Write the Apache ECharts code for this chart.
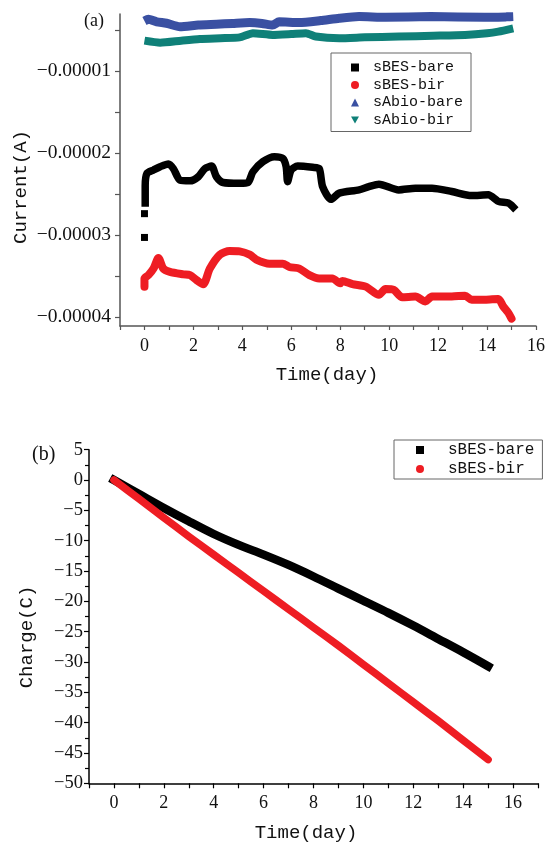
<!DOCTYPE html>
<html><head><meta charset="utf-8">
<script src="https://cdn.jsdelivr.net/npm/echarts@6/dist/echarts.min.js"></script>
<style>html,body{margin:0;padding:0;background:#fff}#c{width:548px;height:846px}</style>
</head><body><div id="c"></div>
<script>
// ---- Panel (a): current (A) vs time (day) ----
const bareDay = [0.03,0.03,0.1,0.37,0.64,0.98,1.18,1.45,1.86,2.2,2.47,2.74,2.94,3.21,3.89,4.23,4.43,4.84,5.31,5.65,5.79,5.85,5.99,6.26,6.87,7.14,7.28,7.62,7.96,8.77,9.17,9.58,10.39,11.07,11.75,12.56,13.37,14.05,14.46,14.87,15.07];
const bareCur = [-2.61e-5,-2.4e-5,-2.25e-5,-2.207e-5,-2.167e-5,-2.134e-5,-2.19e-5,-2.33e-5,-2.34e-5,-2.29e-5,-2.19e-5,-2.16e-5,-2.29e-5,-2.36e-5,-2.37e-5,-2.36e-5,-2.23e-5,-2.106e-5,-2.045e-5,-2.065e-5,-2.167e-5,-2.35e-5,-2.21e-5,-2.16e-5,-2.175e-5,-2.19e-5,-2.41e-5,-2.565e-5,-2.49e-5,-2.45e-5,-2.41e-5,-2.38e-5,-2.45e-5,-2.43e-5,-2.43e-5,-2.47e-5,-2.52e-5,-2.51e-5,-2.59e-5,-2.61e-5,-2.66e-5];
const bareStartDay = [0, 0];
const bareStartCur = [-2.74e-5, -3.03e-5];

const birDay = [0,0,0.16,0.37,0.57,0.77,1.04,1.59,1.86,2.13,2.4,2.67,3.08,3.48,3.89,4.3,4.57,5.11,5.65,5.92,6.33,6.74,7.14,7.41,7.68,8.0,8.09,8.5,9.04,9.58,9.85,10.19,10.53,11.07,11.48,11.75,12.56,13.1,13.37,13.92,14.46,14.66,14.87,15.0];
const birCur = [-3.63e-5,-3.53e-5,-3.49e-5,-3.41e-5,-3.28e-5,-3.41e-5,-3.45e-5,-3.48e-5,-3.49e-5,-3.55e-5,-3.6e-5,-3.41e-5,-3.24e-5,-3.195e-5,-3.2e-5,-3.24e-5,-3.3e-5,-3.35e-5,-3.35e-5,-3.39e-5,-3.41e-5,-3.49e-5,-3.53e-5,-3.53e-5,-3.53e-5,-3.59e-5,-3.56e-5,-3.6e-5,-3.63e-5,-3.73e-5,-3.66e-5,-3.67e-5,-3.76e-5,-3.75e-5,-3.81e-5,-3.75e-5,-3.75e-5,-3.74e-5,-3.79e-5,-3.79e-5,-3.78e-5,-3.87e-5,-3.95e-5,-4.02e-5];

const abioBareDay = [0,0.16,0.5,0.9,1.45,2.2,2.94,3.6,4.3,4.8,5.24,5.5,6.33,7.2,7.96,8.77,9.85,11.7,13.9,14.8,15.07];
const abioBareCur = [-0.39e-5,-0.37e-5,-0.4e-5,-0.418e-5,-0.46e-5,-0.44e-5,-0.43e-5,-0.42e-5,-0.41e-5,-0.42e-5,-0.44e-5,-0.4e-5,-0.41e-5,-0.385e-5,-0.357e-5,-0.337e-5,-0.345e-5,-0.337e-5,-0.345e-5,-0.34e-5,-0.337e-5];

const abioBirDay = [0,0.64,1.5,2.26,3.1,3.89,4.43,5.24,6.0,6.6,7.0,7.96,9.0,10.4,11.8,13.1,14.0,14.46,15.07];
const abioBirCur = [-0.63e-5,-0.655e-5,-0.63e-5,-0.61e-5,-0.6e-5,-0.59e-5,-0.54e-5,-0.56e-5,-0.55e-5,-0.54e-5,-0.58e-5,-0.6e-5,-0.59e-5,-0.58e-5,-0.57e-5,-0.56e-5,-0.54e-5,-0.52e-5,-0.48e-5];

const curTickLabels = [-0.00004, -0.00003, -0.00002, -0.00001];
const curTicks = [-0.00004, -0.000035, -0.00003, -0.000025, -0.00002, -0.000015, -0.00001, -0.000005];
const dayTickLabels = [0,2,4,6,8,10,12,14,16];

// ---- Panel (b): charge (C) vs time (day) ----
const chargeDay = [0,1,2,3,4,5,6,7,8,9,10,11,12,13,14,15];
const chargeBare = [0,-2.3,-4.6,-6.8,-8.9,-10.7,-12.3,-14.0,-15.9,-17.9,-19.9,-21.9,-24.0,-26.2,-28.4,-30.7];
const chargeBir = [0,-3.1,-6.2,-9.3,-12.3,-15.3,-18.3,-21.3,-24.3,-27.3,-30.4,-33.5,-36.6,-39.7,-42.9,-46.1];

const zip = (a, b) => a.map((v, i) => [v, b[i]]);
const SERIF = 'Liberation Serif';
const MONO = 'Liberation Mono';
const C_BLACK = '#000000', C_RED = '#ee1d23', C_BLUE = '#3a50a2', C_TEAL = '#0f8078';
const downTri = 'path://M0,0L10,0L5,9Z';
const minus = v => (v < 0 ? '\u2212' : '') + Math.abs(v);

const chart = echarts.init(document.getElementById('c'), null, {renderer: 'canvas'});
chart.setOption({
  animation: false,
  backgroundColor: '#fff',
  grid: [
    {left: 120, top: 14, width: 418.6, height: 312},
    {left: 89, top: 449.7, width: 449, height: 333.6}
  ],
  xAxis: [
    {gridIndex: 0, type: 'value', min: -1, max: 16, interval: 1,
     axisLine: {onZero: false, lineStyle: {color: '#555', width: 1.5}},
     axisTick: {length: 4, lineStyle: {color: '#555', width: 1.2}},
     axisLabel: {customValues: dayTickLabels, color: '#111', fontFamily: SERIF, fontSize: 18, margin: 11},
     splitLine: {show: false}},
    {gridIndex: 1, type: 'value', min: -1, max: 17, interval: 1,
     axisLine: {onZero: false, lineStyle: {color: '#000', width: 1.5}},
     axisTick: {length: 5, lineStyle: {color: '#000', width: 1.2}},
     axisLabel: {customValues: dayTickLabels, color: '#111', fontFamily: SERIF, fontSize: 18, margin: 11},
     splitLine: {show: false}}
  ],
  yAxis: [
    {gridIndex: 0, type: 'value', min: -0.0000411, max: -0.00000305,
     axisLine: {show: true, onZero: false, lineStyle: {color: '#555', width: 1.5}},
     axisTick: {customValues: curTicks, length: 5, lineStyle: {color: '#555', width: 1.2}},
     axisLabel: {customValues: curTickLabels, formatter: v => '\u2212' + Math.abs(v).toFixed(5),
                 color: '#111', fontFamily: SERIF, fontSize: 19.5, margin: 9},
     splitLine: {show: false}},
    {gridIndex: 1, type: 'value', min: -50, max: 5, interval: 5,
     axisLine: {show: true, onZero: false, lineStyle: {color: '#000', width: 1.5}},
     axisTick: {length: 5, lineStyle: {color: '#000', width: 1.2}},
     minorTick: {show: true, splitNumber: 2, length: 4, lineStyle: {color: '#000', width: 1.2}},
     axisLabel: {formatter: minus, color: '#111', fontFamily: SERIF, fontSize: 18.5, margin: 6},
     splitLine: {show: false}}
  ],
  legend: [
    {left: 331, top: 53, orient: 'vertical', itemGap: 2.5, itemWidth: 8, itemHeight: 8,
     padding: [7, 8, 4, 20], borderColor: '#666', borderWidth: 1, borderRadius: 0,
     textStyle: {fontFamily: MONO, fontSize: 15, color: '#111', padding: [0, 0, 0, 9]},
     data: [{name: 'sBES-bare', icon: 'rect'}, {name: 'sBES-bir', icon: 'circle'},
            {name: 'sAbio-bare', icon: 'triangle'}, {name: 'sAbio-bir', icon: downTri}]},
    {left: 394, top: 440, orient: 'vertical', itemGap: 3, itemWidth: 8, itemHeight: 8,
     padding: [2, 8, 2, 22], borderColor: '#666', borderWidth: 1, borderRadius: 0,
     textStyle: {fontFamily: MONO, fontSize: 16, color: '#111', padding: [0, 0, 0, 19]},
     data: [{name: 'sBES-bare', icon: 'rect'}, {name: 'sBES-bir', icon: 'circle'}]}
  ],
  graphic: [
    {type: 'text', left: 84, top: 12, style: {text: '(a)', font: '18px "Liberation Serif"', fill: '#111'}},
    {type: 'text', left: 32, top: 445, style: {text: '(b)', font: '20px "Liberation Serif"', fill: '#111'}},
    {type: 'text', x: 21, y: 187, rotation: Math.PI / 2,
     style: {text: 'Current(A)', font: '19px "Liberation Mono"', fill: '#111', align: 'center', verticalAlign: 'middle'}},
    {type: 'text', x: 327, y: 375,
     style: {text: 'Time(day)', font: '19px "Liberation Mono"', fill: '#111', align: 'center', verticalAlign: 'middle'}},
    {type: 'text', x: 27, y: 637, rotation: Math.PI / 2,
     style: {text: 'Charge(C)', font: '19px "Liberation Mono"', fill: '#111', align: 'center', verticalAlign: 'middle'}},
    {type: 'text', x: 306, y: 833,
     style: {text: 'Time(day)', font: '19px "Liberation Mono"', fill: '#111', align: 'center', verticalAlign: 'middle'}}
  ],
  series: [
    {name: 'sBES-bare', type: 'line', xAxisIndex: 0, yAxisIndex: 0, data: zip(bareDay, bareCur), smooth: 0.25,
     showSymbol: false, lineStyle: {color: C_BLACK, width: 7.5, cap: 'square', join: 'round'}, itemStyle: {color: C_BLACK}},
    {name: 'sBES-bare', type: 'scatter', xAxisIndex: 0, yAxisIndex: 0, data: zip(bareStartDay, bareStartCur),
     symbol: 'rect', symbolSize: 7, itemStyle: {color: C_BLACK, opacity: 1}},
    {name: 'sBES-bir', type: 'line', xAxisIndex: 0, yAxisIndex: 0, data: zip(birDay, birCur), smooth: 0.25,
     showSymbol: false, lineStyle: {color: C_RED, width: 8, cap: 'round', join: 'round'}, itemStyle: {color: C_RED}},
    {name: 'sAbio-bare', type: 'line', xAxisIndex: 0, yAxisIndex: 0, data: zip(abioBareDay, abioBareCur), smooth: 0.2,
     showSymbol: false, lineStyle: {color: C_BLUE, width: 9, cap: 'butt', join: 'round'}, itemStyle: {color: C_BLUE}},
    {name: 'sAbio-bir', type: 'line', xAxisIndex: 0, yAxisIndex: 0, data: zip(abioBirDay, abioBirCur), smooth: 0.2,
     showSymbol: false, lineStyle: {color: C_TEAL, width: 8, cap: 'butt', join: 'round'}, itemStyle: {color: C_TEAL}},
    {name: 'sBES-bare', type: 'line', xAxisIndex: 1, yAxisIndex: 1, data: zip(chargeDay, chargeBare), smooth: 0.3,
     showSymbol: false, lineStyle: {color: C_BLACK, width: 8.5, cap: 'square', join: 'round'}, itemStyle: {color: C_BLACK}},
    {name: 'sBES-bir', type: 'line', xAxisIndex: 1, yAxisIndex: 1, data: zip(chargeDay, chargeBir), smooth: 0.3,
     showSymbol: false, lineStyle: {color: C_RED, width: 7.5, cap: 'round', join: 'round'}, itemStyle: {color: C_RED}}
  ]
});
</script></body></html>
